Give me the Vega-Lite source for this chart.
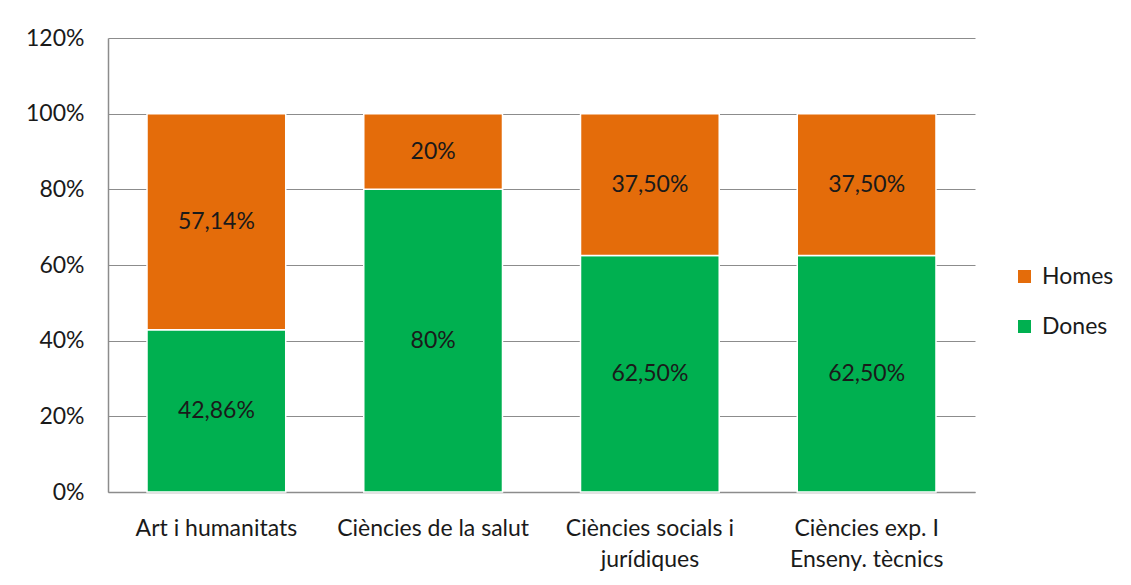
{
  "$schema": "https://vega.github.io/schema/vega-lite/v6.json",
  "autosize": "none",
  "padding": {"left": 108, "top": 38, "right": 156, "bottom": 93},
  "width": 867,
  "height": 454,
  "background": "white",
  "config": {
    "font": "Lato",
    "view": {"stroke": null},
    "axis": {"labelFont": "Lato", "labelColor": "#1a1a1a", "labelFontSize": 23}
  },
  "data": {
    "values": [
      {"area": "Art i humanitats", "sexe": "Dones", "valor": 42.86, "etiqueta": "42,86%"},
      {"area": "Art i humanitats", "sexe": "Homes", "valor": 57.14, "etiqueta": "57,14%"},
      {"area": "Ciències de la salut", "sexe": "Dones", "valor": 80, "etiqueta": "80%"},
      {"area": "Ciències de la salut", "sexe": "Homes", "valor": 20, "etiqueta": "20%"},
      {"area": "Ciències socials i jurídiques", "sexe": "Dones", "valor": 62.5, "etiqueta": "62,50%"},
      {"area": "Ciències socials i jurídiques", "sexe": "Homes", "valor": 37.5, "etiqueta": "37,50%"},
      {"area": "Ciències exp. I Enseny. tècnics", "sexe": "Dones", "valor": 62.5, "etiqueta": "62,50%"},
      {"area": "Ciències exp. I Enseny. tècnics", "sexe": "Homes", "valor": 37.5, "etiqueta": "37,50%"}
    ]
  },
  "encoding": {
    "x": {
      "field": "area", "type": "nominal", "sort": null,
      "scale": {"paddingInner": 0.36, "paddingOuter": 0.18},
      "axis": {
        "title": null, "labelAngle": 0, "ticks": false, "labelPadding": 43,
        "domainColor": "#8c8c8c", "domainWidth": 1.5, "labelLimit": 0,
        "labelLineHeight": 31, "labelBaseline": "alphabetic",
        "labelExpr": "datum.value == 'Ciències socials i jurídiques' ? ['Ciències socials i', 'jurídiques'] : datum.value == 'Ciències exp. I Enseny. tècnics' ? ['Ciències exp. I', 'Enseny. tècnics'] : datum.value"
      }
    },
    "y": {
      "field": "valor", "type": "quantitative", "stack": "zero",
      "scale": {"domain": [0, 120]},
      "axis": {
        "title": null, "values": [0, 20, 40, 60, 80, 100, 120], "ticks": false,
        "labelPadding": 24, "labelExpr": "datum.value + '%'",
        "domain": true, "domainColor": "#8c8c8c", "domainWidth": 1.5,
        "grid": true, "gridColor": "#8c8c8c", "gridWidth": 1
      }
    },
    "order": {"field": "sexe", "sort": "ascending"}
  },
  "layer": [
    {
      "mark": {"type": "bar", "stroke": "white", "strokeWidth": 1.5},
      "encoding": {
        "color": {
          "field": "sexe", "type": "nominal",
          "scale": {"domain": ["Homes", "Dones"], "range": ["#E46C0A", "#00B050"]},
          "legend": {
            "title": null, "orient": "none", "legendX": 905, "legendY": 227,
            "symbolType": "square", "symbolSize": 169, "symbolStrokeWidth": 0,
            "labelFontSize": 23, "labelFont": "Lato", "labelColor": "#1a1a1a",
            "rowPadding": 26, "labelOffset": 6
          }
        }
      }
    },
    {
      "mark": {"type": "text", "fontSize": 23, "font": "Lato", "color": "#1a1a1a"},
      "encoding": {
        "y": {"field": "valor", "type": "quantitative", "stack": "zero", "bandPosition": 0.5},
        "text": {"field": "etiqueta"}
      }
    }
  ]
}
